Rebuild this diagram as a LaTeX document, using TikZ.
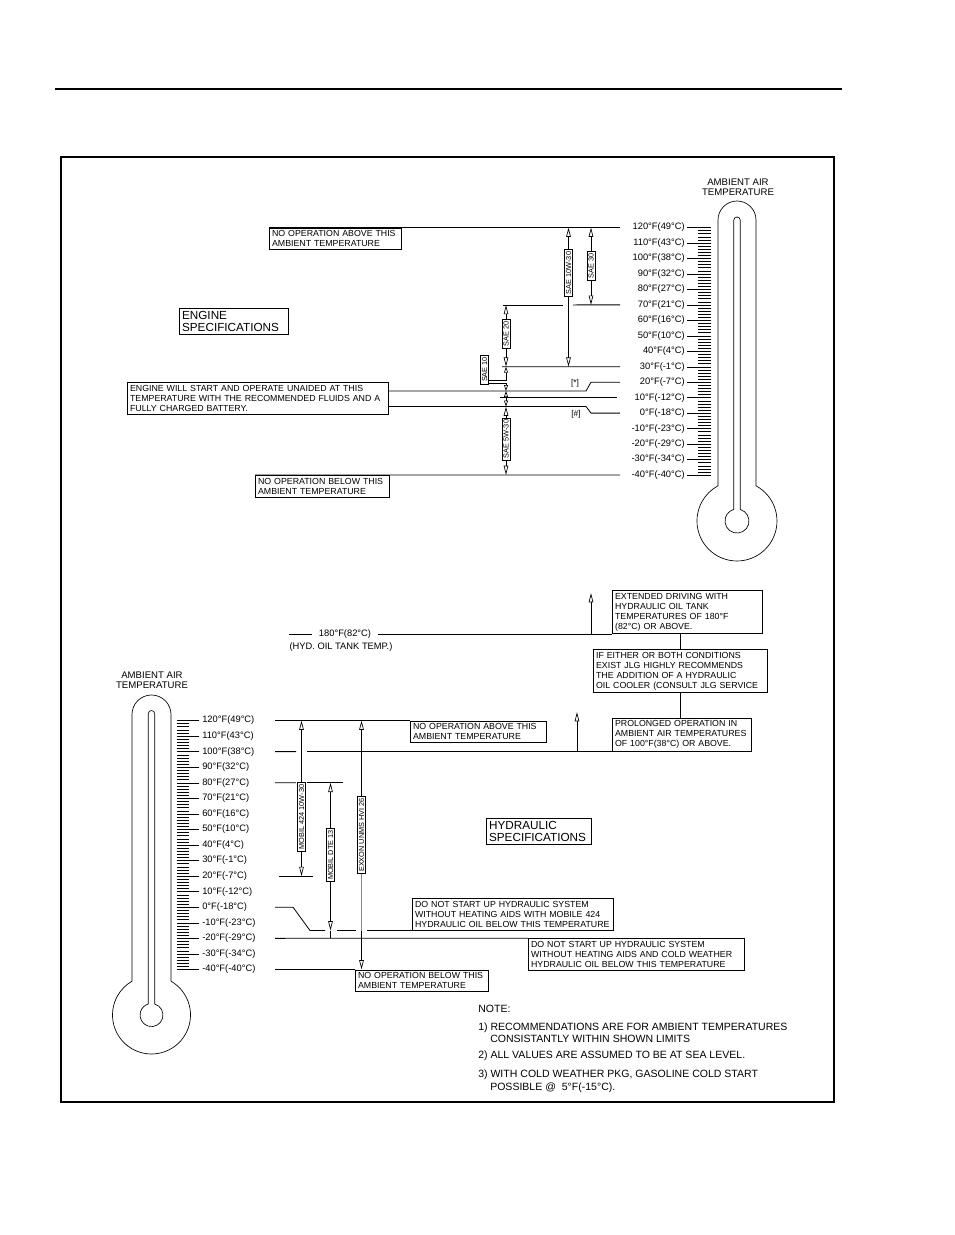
\documentclass[tikz,border=0pt]{standalone}
\usepackage{fontspec}
\setmainfont{Liberation Sans}
\usetikzlibrary{arrows.meta}
\tikzset{
  otip/.tip={Triangle[open,length=7pt,width=3.4pt,line width=0.5pt]},
  stip/.tip={Triangle[open,length=4.5pt,width=3pt,line width=0.5pt]},
  ln/.style={line width=0.6pt},
  bx/.style={draw,line width=0.6pt,align=left,inner xsep=2pt,inner ysep=2pt,font=\fontsize{6.6}{7.5}\selectfont},
  spec/.style={draw,line width=0.6pt,align=left,inner xsep=2pt,inner ysep=2pt,font=\fontsize{8.8}{9}\selectfont},
  vbx/.style={draw,line width=0.6pt,rotate=90,inner xsep=1.5pt,inner ysep=1pt,font=\fontsize{5.5}{6}\selectfont},
  tl/.style={inner sep=0pt,font=\fontsize{7}{8}\selectfont},
  hd/.style={inner sep=0pt,align=center,font=\fontsize{7.2}{7.6}\selectfont},
  nt/.style={inner sep=0pt,anchor=base west,font=\fontsize{7.9}{9}\selectfont},
  th/.style={line width=0.5pt},
  tk/.style={line width=0.35pt},
}
\begin{document}
\begin{tikzpicture}[x=0.75pt,y=0.75pt,yscale=-1]
\useasboundingbox (0,0) rectangle (954,1235);
\fill[white] (0,0) rectangle (954,1235);
\draw[line width=0.8pt] (55,89) -- (842,89);
\draw[line width=1.1pt] (61,157) rectangle (834,1102);

% ================= ENGINE THERMOMETER
\node[hd] (ehd) at (738,187) {AMBIENT AIR\\TEMPERATURE};
\draw[th] (718,485.8) -- (718,220) arc[start angle=180,end angle=360,radius=19] -- (756,485.8) arc[start angle=-61.6,end angle=241.6,radius=40] -- cycle;
\draw[th] (733.7,509.5) -- (733.7,220.3) arc[start angle=180,end angle=360,radius=3.3] -- (740.3,509.5) arc[start angle=-74,end angle=254,radius=12] -- cycle;
\foreach \j in {0,...,80} \draw[tk] (698,227.5+\j*3.094) -- (711,227.5+\j*3.094);
\foreach \t [count=\i from 0] in {120°F(49°C),110°F(43°C),100°F(38°C),90°F(32°C),80°F(27°C),70°F(21°C),60°F(16°C),50°F(10°C),40°F(4°C),30°F(-1°C),20°F(-7°C),10°F(-12°C),0°F(-18°C),-10°F(-23°C),-20°F(-29°C),-30°F(-34°C),-40°F(-40°C)}{
  \node[tl,anchor=east] (et\i) at (685,227.5+\i*15.47) {\t};
  \draw[tk] (687,227.5+\i*15.47) -- (711,227.5+\i*15.47);
  \coordinate (E\i) at (620,227.5+\i*15.47);
}

% ================= ENGINE SPECS
\node[bx,anchor=north west,text width=95pt] (nab) at (269,227.5) {NO OPERATION ABOVE THIS\\AMBIENT TEMPERATURE};
\draw[ln] (nab.north west) -- (E0);

\node[vbx] (s1030) at (568.5,273) {SAE 10W-30};
\node[vbx] (s30) at (591,266) {SAE 30};
\draw[ln,-otip] (s1030.east) -- (s1030.east |- E0);
\draw[ln,-otip] (s1030.west) -- (s1030.west |- E9);
\draw[ln,-otip] (s30.east) -- (s30.east |- E0);
\draw[ln,-otip] (s30.west) -- (s30.west |- E5);

\coordinate (g1) at (503,304.9); \coordinate (g2) at (563,304.9); \coordinate (g3) at (573,304.9);
\draw[ln] (g1) -- (g2);
\draw[ln] (g3) -- (E5);

\node[spec,anchor=north west,text width=78pt] (espec) at (179,308) {ENGINE\\SPECIFICATIONS};

\node[vbx] (s20) at (506,334) {SAE 20};
\draw[ln,-otip] (s20.east) -- (s20.east |- E5);
\draw[ln,-otip] (s20.west) -- (s20.west |- E9);
\coordinate (g4) at (502,366.7);
\draw[ln] (g4) -- (E9);

\node[vbx] (s10) at (484.5,369.5) {SAE 10};
\coordinate (k1) at (506,380.5); \coordinate (k2) at (506,383.2);
\coordinate (k3) at (506,391); \coordinate (k4) at (506,406.5);
\draw[ln] (s10.south |- k1) -- (k1);
\draw[ln] (s10.south |- k2) -- (k2);
\draw[ln,-stip] (k1) -- (k1 |- E9);
\draw[ln,-stip] (k2) -- (k3);
\draw[ln,stip-stip] (k3) -- (k4);

\node[bx,anchor=north west,text width=192pt] (ews) at (127,382) {ENGINE WILL START AND OPERATE UNAIDED AT THIS\\TEMPERATURE WITH THE RECOMMENDED FLUIDS AND A\\FULLY CHARGED BATTERY.};
\coordinate (p1) at (586,391); \coordinate (p2) at (591,382.2);
\draw[ln] (ews.east |- p1) -- (p1) -- (p2) -- (E10);
\coordinate (q1) at (586,406.5); \coordinate (q2) at (591,413.1);
\draw[ln] (ews.east |- q1) -- (q1) -- (q2) -- (E12);
\coordinate (m1) at (500,397.7); \coordinate (m2) at (617,397.7);
\draw[ln] (m1) -- (m2);
\node[tl,font=\fontsize{6.3}{7}\selectfont] (star) at (575,383) {[*]};
\node[tl,font=\fontsize{6.3}{7}\selectfont] (hash) at (576,414) {[\#]};

\node[vbx] (s530) at (506,439) {SAE 5W-30};
\draw[ln,-otip] (s530.east) -- (k4);
\draw[ln,-otip] (s530.west) -- (s530.west |- E16);
\node[bx,anchor=north west,text width=96.5pt] (nbl) at (255,475) {NO OPERATION BELOW THIS\\AMBIENT TEMPERATURE};
\draw[ln] (nbl.north west) -- (E16);

% ================= HYDRAULIC THERMOMETER
\node[hd] (hhd) at (152,680.5) {AMBIENT AIR\\TEMPERATURE};
\draw[th] (132,981.2) -- (132,714.5) arc[start angle=180,end angle=360,radius=19.5] -- (171,981.2) arc[start angle=-60,end angle=240,radius=39] -- cycle;
\draw[th] (148.3,1004) -- (148.3,713.7) arc[start angle=180,end angle=360,radius=3.2] -- (154.7,1004) arc[start angle=-73.8,end angle=253.8,radius=11.5] -- cycle;
\foreach \j in {0,...,80} \draw[tk] (177,720.5+\j*3.112) -- (189,720.5+\j*3.112);
\foreach \t [count=\i from 0] in {120°F(49°C),110°F(43°C),100°F(38°C),90°F(32°C),80°F(27°C),70°F(21°C),60°F(16°C),50°F(10°C),40°F(4°C),30°F(-1°C),20°F(-7°C),10°F(-12°C),0°F(-18°C),-10°F(-23°C),-20°F(-29°C),-30°F(-34°C),-40°F(-40°C)}{
  \node[tl,anchor=west] (ht\i) at (202,720.5+\i*15.56) {\t};
  \draw[tk] (177,720.5+\i*15.56) -- (199,720.5+\i*15.56);
  \coordinate (H\i) at (275,720.5+\i*15.56);
}

% ================= HYDRAULIC SPECS
\node[bx,anchor=south west,text width=108.5pt] (ext) at (612,634) {EXTENDED DRIVING WITH\\HYDRAULIC OIL TANK\\TEMPERATURES OF 180°F\\(82°C) OR ABOVE.};
\node[tl,inner xsep=5pt] (t180) at (345,634) {180°F(82°C)};
\node[tl] (tank) at (341,647) {(HYD. OIL TANK TEMP.)};
\coordinate (r1) at (289,634);
\draw[ln] (r1) -- (t180.west);
\draw[ln] (t180.east) -- (ext.south west);
\coordinate (u1) at (591,634); \coordinate (u2) at (591,593);
\draw[ln,-otip] (u1) -- (u2);

\node[bx,anchor=north west,text width=126.5pt] (ife) at (593,649) {IF EITHER OR BOTH CONDITIONS\\EXIST JLG HIGHLY RECOMMENDS\\THE ADDITION OF A HYDRAULIC\\OIL COOLER (CONSULT JLG SERVICE};
\draw[ln] (ife.north) -- (ife.north |- ext.south);
\node[bx,anchor=south west,text width=100pt] (prol) at (612,751.6) {PROLONGED OPERATION IN\\AMBIENT AIR TEMPERATURES\\OF 100°F(38°C) OR ABOVE.};
\draw[ln] (ife.south) -- (ife.south |- prol.north);
\coordinate (u3) at (577,751.6); \coordinate (u4) at (577,712);
\draw[ln,-otip] (u3) -- (u4);

\node[bx,anchor=north west,text width=98pt] (hnab) at (410,720.5) {NO OPERATION ABOVE THIS\\AMBIENT TEMPERATURE};
\draw[ln] (H0) -- (hnab.north west);

\node[vbx] (m424) at (301.5,817) {MOBIL 424 10W-30};
\draw[ln,-otip] (m424.east) -- (m424.east |- H0);
\draw[ln,-otip] (m424.west) -- (m424.west |- H10);

\coordinate (h2a) at (296,751.6); \coordinate (h2b) at (307,751.6);
\draw[ln] (H2) -- (h2a);
\draw[ln] (h2b) -- (prol.south west);
\coordinate (h4a) at (296,782.7); \coordinate (h4b) at (307,782.7); \coordinate (h4c) at (343,782.7);
\draw[ln] (H4) -- (h4a);
\draw[ln] (h4b) -- (h4c);
\coordinate (h10a) at (279,876.1); \coordinate (h10b) at (313,876.1);
\draw[ln] (h10a) -- (h10b);

\node[vbx] (dte) at (330.5,855) {MOBIL DTE 13};
\draw[ln,-otip] (dte.east) -- (dte.east |- H4);
\coordinate (d1) at (330.5,930.5);
\draw[ln,-otip] (dte.west) -- (d1);
\draw[ln] (d1) -- (d1 |- H14);

\node[vbx] (exx) at (361.5,835) {EXXON UNMS HVI 26};
\draw[ln,-otip] (exx.east) -- (exx.east |- H0);
\coordinate (x1) at (361.5,930.5);
\draw[ln,black!45] (exx.west) -- (x1);
\draw[ln,-otip] (x1) -- (x1 |- H16);

\node[bx,anchor=south west,text width=147pt] (dns1) at (412,930.5) {DO NOT START UP HYDRAULIC SYSTEM\\WITHOUT HEATING AIDS WITH MOBILE 424\\HYDRAULIC OIL BELOW THIS TEMPERATURE};
\coordinate (z1) at (293,907.2); \coordinate (z2) at (310,930.5); \coordinate (z3) at (325,930.5);
\coordinate (z4) at (337,930.5); \coordinate (z5) at (356,930.5); \coordinate (z6) at (367,930.5);
\draw[ln] (H12) -- (z1) -- (z2) -- (z3);
\draw[ln] (z4) -- (z5);
\draw[ln] (z6) -- (dns1.south west);

\node[bx,anchor=north west,text width=158pt] (dns2) at (528,938.3) {DO NOT START UP HYDRAULIC SYSTEM\\WITHOUT HEATING AIDS AND COLD WEATHER\\HYDRAULIC OIL BELOW THIS TEMPERATURE};
\draw[ln] (H14) -- (dns2.north west);

\node[bx,anchor=north west,text width=96pt] (nbl2) at (355,969.5) {NO OPERATION BELOW THIS\\AMBIENT TEMPERATURE};
\draw[ln] (H16) -- (nbl2.north west);

\node[spec,anchor=north west,text width=75pt] (hspec) at (486,818) {HYDRAULIC\\SPECIFICATIONS};

% ================= NOTES
\node[nt] (n0) at (478,1012.8) {NOTE:};
\node[nt] (n1) at (478,1030.8) {1) RECOMMENDATIONS ARE FOR AMBIENT TEMPERATURES};
\node[nt] (n2) at (490,1042.8) {CONSISTANTLY WITHIN SHOWN LIMITS};
\node[nt] (n3) at (478,1058.8) {2) ALL VALUES ARE ASSUMED TO BE AT SEA LEVEL.};
\node[nt] (n4) at (478,1077.8) {3) WITH COLD WEATHER PKG, GASOLINE COLD START};
\node[nt] (n5) at (490,1090.8) {POSSIBLE @\ \ 5°F(-15°C).};
\end{tikzpicture}
\end{document}
